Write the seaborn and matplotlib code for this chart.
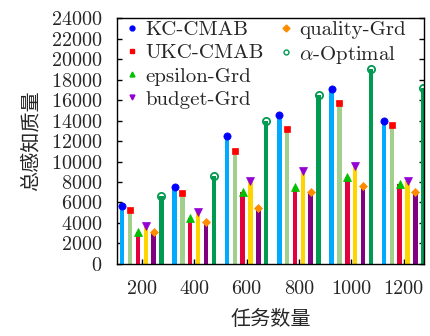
import matplotlib
matplotlib.use("Agg")
import matplotlib.pyplot as plt
from matplotlib.lines import Line2D
import seaborn as sns
import numpy as np

tasks = [200, 400, 600, 800, 1000, 1200]
kc_cmab = [5700, 7500, 12500, 14500, 17100, 14000]
ukc_cmab = [5300, 6900, 11000, 13200, 15700, 13600]
epsilon_grd = [3100, 4500, 7000, 7500, 8500, 7800]
budget_grd = [3700, 5100, 8100, 9100, 9600, 8100]
quality_grd = [3100, 4100, 5500, 7000, 7600, 7000]
alpha_opt = [6600, 8600, 14000, 16500, 19000, 17200]

series_names = ["KC-CMAB", "UKC-CMAB", "epsilon-Grd", "budget-Grd", "quality-Grd", r"$\alpha$-Optimal"]
series_vals = [kc_cmab, ukc_cmab, epsilon_grd, budget_grd, quality_grd, alpha_opt]
bar_colors = ["#00aaff", "#a3cf8c", "#e3003c", "#ffd500", "#800080", "#009a50"]
mk_colors = ["#0000ff", "#ff0000", "#00c000", "#9400d3", "#ff8c00", "#009a50"]
markers = ["o", "s", "^", "v", "D", "o"]
mk_sizes = [5.2, 5.0, 5.2, 5.2, 4.0, 5.2]
offsets = [-75, -45, -15, 15, 45, 75]

sns.set_style("ticks")
plt.rcParams["font.family"] = ["cmr10", "DejaVu Serif"]
plt.rcParams["mathtext.fontset"] = "cm"
plt.rcParams["axes.formatter.use_mathtext"] = True

fig = plt.figure(figsize=(4.31, 3.36), dpi=100)
ax = fig.add_axes([0.272, 0.2143, 0.7125, 0.7321])

x = np.array(tasks, dtype=float)
handles = []
for i, (vals, bc, mc, m, ms, off) in enumerate(zip(series_vals, bar_colors, mk_colors, markers, mk_sizes, offsets)):
    ax.bar(x + off, vals, width=17, color=bc, zorder=2, linewidth=0)
    if i == 5:
        ax.plot(x + off, vals, linestyle="none", marker=m, markersize=ms,
                markerfacecolor="none", markeredgecolor=mc, markeredgewidth=1.3, zorder=1.5)
        h = Line2D([], [], linestyle="none", marker=m, markersize=3.5, markerfacecolor="none",
                   markeredgecolor=mc, markeredgewidth=1.0)
    else:
        ax.plot(x + off, vals, linestyle="none", marker=m, markersize=ms,
                markerfacecolor=mc, markeredgecolor=mc, markeredgewidth=0.5, zorder=3)
        h = Line2D([], [], linestyle="none", marker=m, markersize=3.5, markerfacecolor=mc,
                   markeredgecolor=mc)
    handles.append(h)

blank = Line2D([], [], linestyle="none", marker=None)
leg = ax.legend(handles + [blank, blank], series_names + ["", ""], ncol=2, loc="upper left",
                frameon=False, fontsize=15, handlelength=0.6, handletextpad=0.35,
                columnspacing=0.75, labelspacing=0.22, borderaxespad=0.0, borderpad=0.1,
                bbox_to_anchor=(0.02, 0.998))

ax.set_xlim(106, 1279)
ax.set_ylim(0, 24000)
ax.set_xticks(tasks)
ax.set_xticklabels([str(t) for t in tasks])
ax.set_yticks(np.arange(0, 24001, 2000))
ax.tick_params(axis="both", direction="in", labelsize=14.5, length=3.5, width=1.0, color="black")
ax.tick_params(axis="y", right=True, pad=10.5)
ax.tick_params(axis="x", pad=11.5)
for s in ax.spines.values():
    s.set_visible(True)
    s.set_linewidth(1.0)
    s.set_color("black")

ax.set_xlabel("任务数量", fontsize=14.5, family=["Noto Sans CJK SC", "DejaVu Sans"], labelpad=8)
ax.set_ylabel("总感知质量", fontsize=14.5, family=["Noto Sans CJK SC", "DejaVu Sans"], labelpad=7)

fig.savefig("out.png", dpi=100)
